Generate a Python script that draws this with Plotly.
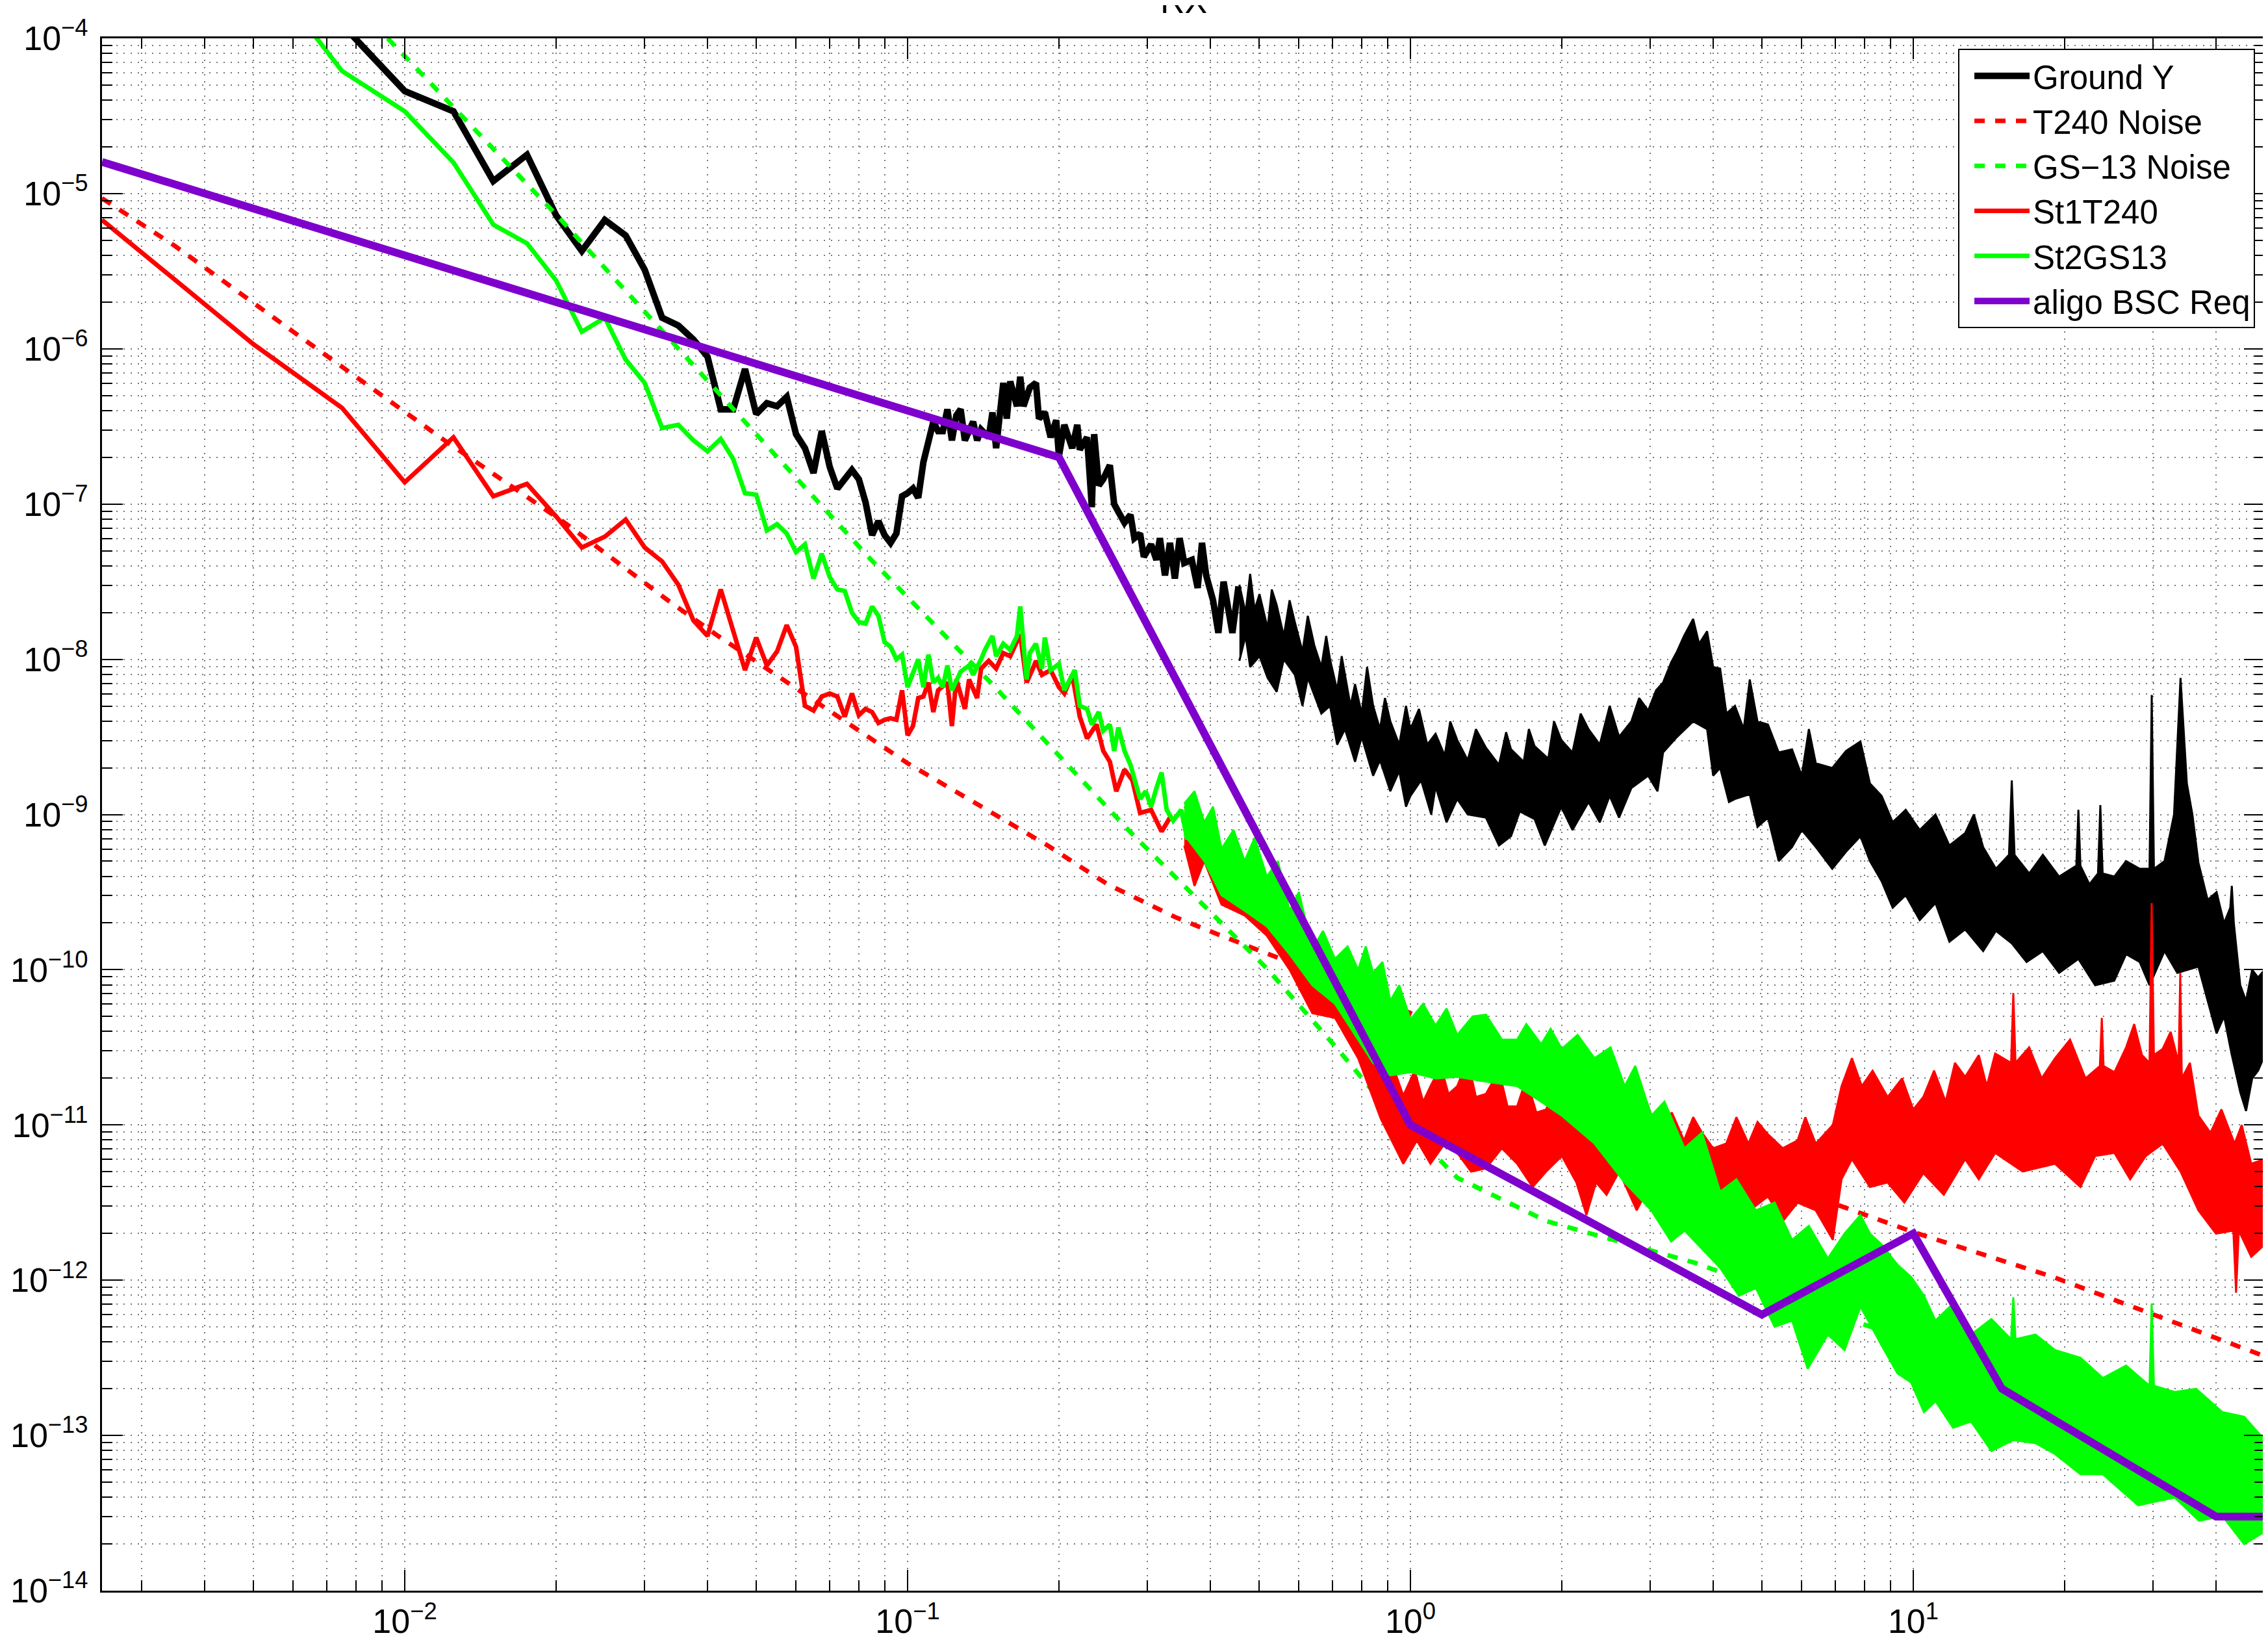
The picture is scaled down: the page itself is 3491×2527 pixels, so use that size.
import numpy as np
import plotly.graph_objects as go

# amplitudes as log10 values (decades)

# Ground Y: resolved low frequency bins (Hz)
ground_f = [0.0075, 0.01, 0.0125, 0.015, 0.0175, 0.02, 0.0225, 0.025, 0.0275, 0.03,
            0.0325, 0.035, 0.0375, 0.04, 0.0425, 0.045, 0.0475, 0.05, 0.0525, 0.055,
            0.0575, 0.06, 0.0625, 0.065, 0.0675, 0.07, 0.0725, 0.075, 0.0775, 0.08,
            0.0825, 0.085, 0.0875, 0.09, 0.0925, 0.095, 0.0975, 0.1, 0.1025, 0.105,
            0.1075, 0.1125, 0.115, 0.1175, 0.12, 0.1225, 0.125, 0.1275, 0.13, 0.135,
            0.1375, 0.14, 0.145, 0.1475, 0.15, 0.155, 0.1575, 0.16, 0.165, 0.1675,
            0.17, 0.175, 0.18, 0.1825, 0.1875, 0.1925, 0.1975, 0.2, 0.205, 0.2125,
            0.2175, 0.22, 0.2275, 0.2325, 0.235, 0.24, 0.245, 0.2525, 0.2575, 0.2625,
            0.27, 0.2775, 0.2825, 0.29, 0.295, 0.305, 0.3125, 0.3175, 0.325, 0.3325,
            0.34, 0.3475, 0.355, 0.3675, 0.3775, 0.385, 0.3925, 0.405, 0.415, 0.425,
            0.4425, 0.455]
ground_exp = [-3.91, -4.34, -4.47, -4.92, -4.75, -5.14, -5.37, -5.17, -5.27, -5.49,
              -5.80, -5.85, -5.94, -6.05, -6.39, -6.39, -6.13, -6.42, -6.35, -6.37,
              -6.31, -6.55, -6.64, -6.80, -6.53, -6.76, -6.90, -6.84, -6.78, -6.84,
              -6.99, -7.20, -7.11, -7.20, -7.25, -7.19, -6.95, -6.93, -6.90, -6.96,
              -6.73, -6.47, -6.53, -6.53, -6.39, -6.59, -6.43, -6.39, -6.59, -6.47,
              -6.59, -6.52, -6.57, -6.41, -6.64, -6.22, -6.45, -6.21, -6.37, -6.18,
              -6.37, -6.25, -6.22, -6.45, -6.41, -6.57, -6.46, -6.69, -6.49, -6.64,
              -6.49, -6.65, -6.57, -7.02, -6.55, -6.88, -6.84, -6.75, -7.00, -7.05,
              -7.12, -7.07, -7.22, -7.19, -7.34, -7.26, -7.36, -7.22, -7.46, -7.25,
              -7.48, -7.22, -7.38, -7.36, -7.54, -7.25, -7.46, -7.62, -7.83, -7.50,
              -7.83, -7.53]

# Ground Y: dense part, upper and lower edge of the noise band
ground_up_f = [0.457, 0.47, 0.48, 0.49, 0.501, 0.52, 0.53, 0.542, 0.56, 0.575,
               0.589, 0.61, 0.625, 0.644, 0.665, 0.68, 0.692, 0.715, 0.73, 0.741,
               0.76, 0.776, 0.80, 0.82, 0.843, 0.87, 0.89, 0.912, 0.95, 0.98,
               1.0, 1.04, 1.08, 1.122, 1.17, 1.2, 1.239, 1.3, 1.35, 1.413,
               1.5, 1.55, 1.585, 1.68, 1.72, 1.766, 1.88, 1.93, 1.995, 2.1,
               2.18, 2.26, 2.38, 2.49, 2.6, 2.75, 2.85, 2.97, 3.08, 3.18,
               3.3, 3.39, 3.5, 3.65, 3.75, 3.89, 4.0, 4.13, 4.25, 4.42,
               4.6, 4.73, 4.9, 5.14, 5.4, 5.74, 6.0, 6.2, 6.4, 6.9,
               7.35, 7.85, 8.2, 8.65, 9.1, 9.66, 10.3, 11.07, 11.8, 12.68,
               13.2, 13.77, 14.6, 15.5, 15.7, 15.9, 17.0, 18.1, 19.5, 21.1,
               21.3, 21.5, 22.4, 23.3, 23.55, 23.8, 25.1, 26.5, 28.2, 29.5,
               29.8, 30.1, 31.6, 33.0, 34.0, 35.0, 35.9, 36.9, 38.5, 40.1,
               41.5, 42.7, 43.0, 43.4, 44.7, 45.9, 47.2, 48.5, 50.0]
ground_up_exp = [-7.52, -7.70, -7.45, -7.68, -7.58, -7.80, -7.55, -7.65, -7.85, -7.62,
                 -7.76, -7.95, -7.72, -7.91, -8.05, -7.85, -8.00, -8.20, -7.98, -8.10,
                 -8.30, -8.16, -8.35, -8.05, -8.30, -8.45, -8.25, -8.40, -8.55, -8.30,
                 -8.45, -8.32, -8.55, -8.48, -8.62, -8.40, -8.52, -8.65, -8.45, -8.57,
                 -8.68, -8.47, -8.58, -8.66, -8.45, -8.56, -8.64, -8.40, -8.52, -8.60,
                 -8.35, -8.45, -8.55, -8.30, -8.50, -8.40, -8.25, -8.33, -8.20, -8.15,
                 -8.02, -7.95, -7.85, -7.74, -7.90, -7.82, -8.05, -8.06, -8.35, -8.30,
                 -8.45, -8.13, -8.40, -8.42, -8.60, -8.58, -8.75, -8.45, -8.67, -8.70,
                 -8.59, -8.53, -8.80, -8.88, -9.05, -8.97, -9.10, -9.00, -9.20, -9.12,
                 -9.00, -9.21, -9.35, -9.26, -8.78, -9.26, -9.38, -9.26, -9.40, -9.33,
                 -8.97, -9.33, -9.45, -9.38, -8.94, -9.38, -9.40, -9.30, -9.35, -9.35,
                 -8.23, -9.35, -9.30, -9.00, -8.12, -8.80, -9.00, -9.31, -9.55, -9.50,
                 -9.70, -9.60, -9.46, -9.70, -10.10, -10.20, -10.00, -10.05, -10.00]
ground_lo_f = [0.457, 0.47, 0.48, 0.501, 0.52, 0.542, 0.56, 0.589, 0.61, 0.625,
               0.644, 0.665, 0.692, 0.715, 0.741, 0.776, 0.80, 0.843, 0.87, 0.912,
               0.95, 0.98, 1.0, 1.05, 1.1, 1.122, 1.18, 1.239, 1.3, 1.413,
               1.5, 1.585, 1.65, 1.766, 1.85, 1.995, 2.1, 2.26, 2.38, 2.49,
               2.6, 2.75, 2.97, 3.1, 3.18, 3.39, 3.65, 3.89, 4.0, 4.13,
               4.3, 4.42, 4.73, 4.9, 5.14, 5.4, 5.74, 6.0, 6.4, 6.9,
               7.35, 7.85, 8.2, 8.65, 9.1, 9.66, 10.3, 11.07, 11.8, 12.68,
               13.77, 14.6, 15.7, 16.8, 18.1, 19.5, 21.3, 23.0, 25.1, 26.5,
               28.2, 29.5, 31.6, 33.5, 36.9, 38.5, 40.1, 41.5, 43.0, 44.7,
               45.9, 47.2, 48.5, 50.0]
ground_lo_exp = [-8.01, -7.85, -8.05, -7.98, -8.12, -8.21, -8.00, -8.10, -8.30, -8.12,
                 -8.23, -8.35, -8.30, -8.55, -8.45, -8.66, -8.50, -8.75, -8.65, -8.85,
                 -8.72, -8.95, -8.88, -8.78, -9.00, -8.82, -9.05, -8.90, -9.00, -9.02,
                 -9.20, -9.14, -8.98, -9.03, -9.20, -8.95, -9.10, -8.92, -9.05, -8.88,
                 -9.02, -8.83, -8.75, -8.85, -8.60, -8.50, -8.40, -8.45, -8.75, -8.70,
                 -8.92, -8.90, -8.87, -9.08, -9.02, -9.30, -9.21, -9.10, -9.21, -9.35,
                 -9.24, -9.14, -9.30, -9.43, -9.60, -9.52, -9.68, -9.57, -9.82, -9.74,
                 -9.88, -9.75, -9.83, -9.95, -9.88, -10.02, -9.93, -10.10, -10.07, -9.90,
                 -9.95, -10.10, -9.88, -10.02, -9.98, -10.20, -10.41, -10.30, -10.55, -10.79,
                 -10.91, -10.70, -10.65, -10.55]

# T240 noise model
t240_f = [0.0025, 0.0035, 0.006, 0.012, 0.021, 0.034, 0.042, 0.1, 0.19, 0.25,
          0.34, 0.42, 0.84, 1.0, 7.0, 10.0, 19.0, 50.0]
t240_exp = [-5.03, -5.34, -5.89, -6.59, -7.13, -7.64, -7.85, -8.67, -9.20, -9.45,
            -9.66, -9.78, -10.16, -10.28, -11.51, -11.69, -11.98, -12.49]

# GS-13 noise model
gs13_f = [0.00925, 0.0202, 0.0484, 0.0841, 0.1483, 0.2767, 0.5176, 0.716, 0.851, 1.239,
          1.866, 3.698, 7.551, 15.85, 50.0]
gs13_exp = [-4.00, -5.15, -6.50, -7.35, -8.17, -9.11, -9.99, -10.51, -10.80, -11.34,
            -11.62, -11.89, -12.26, -12.60, -13.20]

# St1T240
st1_f = [0.0025, 0.005, 0.0075, 0.01, 0.0125, 0.015, 0.0175, 0.02, 0.0225, 0.025,
         0.0275, 0.03, 0.0325, 0.035, 0.0375, 0.04, 0.0425, 0.045, 0.0475, 0.05,
         0.0525, 0.055, 0.0575, 0.06, 0.0625, 0.065, 0.0675, 0.07, 0.0725, 0.075,
         0.0775, 0.08, 0.0825, 0.085, 0.0875, 0.09, 0.0925, 0.095, 0.0975, 0.1,
         0.1025, 0.105, 0.1075, 0.11, 0.1125, 0.115, 0.12, 0.1225, 0.125, 0.13,
         0.1325, 0.1375, 0.14, 0.145, 0.15, 0.155, 0.16, 0.1675, 0.1725, 0.1775,
         0.18, 0.185, 0.1925, 0.2, 0.205, 0.2125, 0.22, 0.2275, 0.2375, 0.245,
         0.2525, 0.26, 0.27, 0.28, 0.29, 0.305, 0.32, 0.3325]
st1_exp = [-5.17, -5.97, -6.38, -6.86, -6.57, -6.95, -6.87, -7.08, -7.28, -7.21,
           -7.10, -7.28, -7.37, -7.52, -7.75, -7.85, -7.55, -7.83, -8.07, -7.86,
           -8.04, -7.95, -7.78, -7.92, -8.30, -8.33, -8.24, -8.22, -8.24, -8.37,
           -8.22, -8.36, -8.32, -8.34, -8.41, -8.39, -8.38, -8.39, -8.20, -8.49,
           -8.43, -8.25, -8.24, -8.15, -8.34, -8.20, -8.15, -8.43, -8.13, -8.32,
           -8.13, -8.25, -8.06, -8.01, -8.06, -7.96, -7.98, -7.84, -8.15, -8.06,
           -8.01, -8.10, -8.07, -8.18, -8.22, -8.10, -8.37, -8.51, -8.42, -8.59,
           -8.66, -8.85, -8.71, -8.78, -8.99, -8.97, -9.11, -9.02]
st1_up_f = [0.355, 0.372, 0.389, 0.421, 0.468, 0.518, 0.575, 0.638, 0.708, 0.787,
            0.873, 0.968, 1.02, 1.06, 1.096, 1.15, 1.19, 1.239, 1.3, 1.35,
            1.413, 1.5, 1.56, 1.63, 1.7, 1.78, 1.862, 1.95, 2.03, 2.138,
            2.25, 2.35, 2.455, 2.6, 2.7, 2.818, 2.95, 3.1, 3.311, 3.5,
            3.65, 3.802, 4.0, 4.246, 4.45, 4.7, 4.9, 5.14, 5.5, 5.888,
            6.1, 6.397, 6.918, 7.2, 7.551, 7.9, 8.3, 8.89, 9.5, 10.0,
            10.47, 11.0, 11.6, 12.1, 12.68, 13.5, 14.0, 14.55, 15.65, 15.81,
            15.97, 17.0, 18.0, 19.14, 20.5, 22.0, 23.5, 23.71, 23.9, 25.12,
            26.5, 27.5, 28.5, 29.5, 29.79, 30.1, 31.33, 32.5, 33.7, 33.96,
            34.2, 35.5, 36.9, 39.0, 41.0, 43.55, 45.0, 47.0, 50.0]
st1_up_exp = [-8.95, -9.00, -9.10, -9.25, -9.35, -9.45, -9.70, -9.90, -10.00, -10.10,
              -10.40, -10.81, -10.65, -10.85, -10.75, -10.62, -10.80, -10.75, -10.58, -10.82,
              -10.80, -10.65, -10.88, -10.88, -10.70, -10.92, -10.90, -10.72, -10.95, -10.94,
              -10.80, -10.98, -10.95, -10.82, -11.05, -11.00, -10.85, -11.05, -10.92, -11.10,
              -10.95, -11.05, -11.15, -11.12, -10.95, -11.12, -10.98, -11.06, -11.15, -11.10,
              -10.95, -11.12, -11.00, -10.75, -10.57, -10.75, -10.65, -10.82, -10.70, -10.90,
              -10.82, -10.65, -10.85, -10.60, -10.69, -10.55, -10.75, -10.54, -10.60, -10.15,
              -10.60, -10.50, -10.70, -10.57, -10.45, -10.70, -10.62, -10.31, -10.62, -10.66,
              -10.50, -10.35, -10.55, -10.60, -9.57, -10.55, -10.51, -10.40, -10.60, -10.02,
              -10.70, -10.60, -10.94, -11.05, -10.90, -11.12, -11.00, -11.25, -11.22]
st1_lo_f = [0.355, 0.372, 0.389, 0.421, 0.468, 0.518, 0.575, 0.638, 0.708, 0.787,
            0.873, 0.968, 1.03, 1.096, 1.17, 1.239, 1.32, 1.413, 1.52, 1.63,
            1.75, 1.862, 2.0, 2.138, 2.239, 2.34, 2.455, 2.6, 2.818, 3.0,
            3.311, 3.55, 3.802, 4.0, 4.246, 4.6, 5.14, 5.5, 5.888, 6.397,
            6.918, 7.2, 7.551, 8.2, 8.89, 9.6, 10.47, 11.5, 12.68, 13.5,
            14.55, 16.5, 19.14, 21.5, 23.0, 25.12, 27.0, 29.0, 31.33, 34.0,
            36.9, 40.0, 43.3, 43.85, 44.4, 47.0, 50.0]
st1_lo_exp = [-9.20, -9.46, -9.30, -9.58, -9.65, -9.78, -10.00, -10.28, -10.31, -10.57,
              -10.96, -11.25, -11.10, -11.25, -11.12, -11.18, -11.30, -11.28, -11.15, -11.25,
              -11.40, -11.30, -11.20, -11.37, -11.58, -11.37, -11.45, -11.30, -11.55, -11.38,
              -11.43, -11.30, -11.40, -11.55, -11.43, -11.58, -11.46, -11.62, -11.50, -11.55,
              -11.74, -11.35, -11.22, -11.40, -11.37, -11.50, -11.31, -11.45, -11.22, -11.35,
              -11.18, -11.30, -11.25, -11.40, -11.20, -11.18, -11.35, -11.20, -11.12, -11.30,
              -11.55, -11.70, -11.68, -12.08, -11.68, -11.85, -11.77]

# St2GS13
st2_f = [0.005, 0.0075, 0.01, 0.0125, 0.015, 0.0175, 0.02, 0.0225, 0.025, 0.0275,
         0.03, 0.0325, 0.035, 0.0375, 0.04, 0.0425, 0.045, 0.0475, 0.05, 0.0525,
         0.055, 0.0575, 0.06, 0.0625, 0.065, 0.0675, 0.07, 0.0725, 0.075, 0.0775,
         0.08, 0.0825, 0.085, 0.0875, 0.09, 0.0925, 0.095, 0.0975, 0.1, 0.1025,
         0.105, 0.1075, 0.11, 0.1125, 0.115, 0.1175, 0.12, 0.1225, 0.1275, 0.1325,
         0.135, 0.14, 0.1425, 0.1475, 0.15, 0.155, 0.16, 0.165, 0.1675, 0.1725,
         0.175, 0.18, 0.185, 0.1875, 0.1925, 0.2, 0.205, 0.215, 0.22, 0.2275,
         0.2325, 0.24, 0.245, 0.2525, 0.2575, 0.2625, 0.27, 0.2775, 0.285, 0.29,
         0.2975, 0.305, 0.3125, 0.32, 0.3275, 0.3375, 0.35, 0.36, 0.375, 0.3875,
         0.4075]
st2_exp = [-3.47, -4.21, -4.47, -4.80, -5.20, -5.32, -5.56, -5.89, -5.80, -6.07,
           -6.22, -6.51, -6.49, -6.59, -6.66, -6.58, -6.71, -6.93, -6.94, -7.17,
           -7.13, -7.19, -7.31, -7.26, -7.48, -7.32, -7.47, -7.55, -7.56, -7.70,
           -7.76, -7.77, -7.66, -7.72, -7.89, -7.92, -8.00, -7.97, -8.18, -8.08,
           -8.00, -8.18, -7.97, -8.15, -8.12, -8.18, -8.04, -8.20, -8.08, -8.04,
           -8.10, -8.00, -7.94, -7.85, -7.98, -7.90, -7.94, -7.85, -7.66, -8.13,
           -7.96, -7.90, -8.06, -7.86, -8.07, -8.03, -8.20, -8.07, -8.30, -8.32,
           -8.42, -8.34, -8.46, -8.42, -8.59, -8.44, -8.59, -8.68, -8.80, -8.90,
           -8.85, -8.95, -8.83, -8.73, -8.97, -9.04, -8.97, -9.16, -9.07, -9.14,
           -9.21]
st2_up_f = [0.355, 0.372, 0.389, 0.405, 0.421, 0.445, 0.468, 0.49, 0.518, 0.545,
            0.575, 0.6, 0.638, 0.67, 0.708, 0.75, 0.787, 0.815, 0.843, 0.88,
            0.912, 0.95, 1.0, 1.06, 1.122, 1.18, 1.239, 1.33, 1.413, 1.52,
            1.63, 1.7, 1.82, 1.9, 2.0, 2.15, 2.323, 2.5, 2.667, 2.8,
            3.013, 3.2, 3.508, 3.8, 4.13, 4.45, 4.864, 5.3, 5.741, 6.2,
            6.761, 7.3, 7.852, 8.2, 8.65, 9.3, 9.908, 10.5, 11.07, 12.0,
            13.03, 14.3, 15.65, 15.81, 15.97, 17.5, 19.14, 21.5, 23.82, 26.5,
            29.5, 29.79, 30.1, 33.11, 36.5, 41.21, 45.5, 50.0]
st2_up_exp = [-8.93, -8.85, -9.05, -8.95, -9.22, -9.10, -9.30, -9.15, -9.40, -9.30,
              -9.62, -9.50, -9.87, -9.75, -9.93, -9.85, -10.00, -9.85, -10.02, -9.95,
              -10.20, -10.10, -10.32, -10.22, -10.36, -10.25, -10.42, -10.30, -10.29, -10.45,
              -10.45, -10.35, -10.48, -10.38, -10.51, -10.42, -10.57, -10.50, -10.75, -10.62,
              -10.94, -10.85, -11.15, -11.05, -11.43, -11.35, -11.55, -11.50, -11.74, -11.65,
              -11.86, -11.70, -11.58, -11.70, -11.77, -11.90, -11.98, -12.10, -12.26, -12.15,
              -12.35, -12.25, -12.38, -12.11, -12.38, -12.35, -12.45, -12.50, -12.63, -12.55,
              -12.68, -12.15, -12.68, -12.72, -12.70, -12.85, -12.88, -13.03]
st2_lo_f = [0.355, 0.389, 0.421, 0.468, 0.518, 0.575, 0.638, 0.708, 0.787, 0.843,
            0.912, 1.0, 1.122, 1.239, 1.413, 1.63, 1.82, 2.0, 2.323, 2.667,
            3.013, 3.3, 3.508, 4.13, 4.5, 4.864, 5.3, 5.741, 6.166, 6.761,
            7.3, 7.852, 8.65, 9.3, 9.908, 10.5, 11.07, 12.0, 13.03, 14.3,
            15.81, 17.5, 19.14, 21.5, 23.82, 28.0, 33.11, 37.0, 41.21, 45.5,
            50.0]
st2_lo_exp = [-9.13, -9.30, -9.52, -9.62, -9.72, -9.90, -10.10, -10.22, -10.45, -10.60,
              -10.68, -10.66, -10.70, -10.69, -10.72, -10.75, -10.85, -10.94, -11.12, -11.37,
              -11.55, -11.75, -11.68, -11.92, -12.10, -12.05, -12.30, -12.26, -12.57, -12.35,
              -12.45, -12.17, -12.42, -12.60, -12.66, -12.85, -12.78, -12.95, -12.91, -13.10,
              -13.03, -13.05, -13.12, -13.25, -13.25, -13.45, -13.40, -13.55, -13.52, -13.70,
              -13.62]

# aLIGO BSC requirement
req_f = [0.0025, 0.2, 1.0, 5.0, 10.0, 15.0, 40.0, 50.0]
req_y = [1.6e-5, 2e-7, 1e-11, 6e-13, 2e-12, 2e-13, 3e-14, 3e-14]

x_tickvals = [0.01, 0.1, 1, 10]
x_ticktext = ['10<sup>\u22122</sup>', '10<sup>\u22121</sup>', '10<sup>0</sup>', '10<sup>1</sup>']
y_tickvals = [10.0 ** p for p in range(-14, -3)]
y_ticktext = ['10<sup>\u2212%d</sup>' % -p for p in range(-14, -3)]

BLACK = '#000000'
RED = '#ff0000'
GREEN = '#00ff00'
PURPLE = '#7f00cc'
FONT = 'Liberation Sans, Arial, Helvetica, sans-serif'


def amp(e):
    return list(10.0 ** np.array(e))


def band(up_f, up_e, lo_f, lo_e, color):
    # closed outline: upper edge left->right, lower edge back right->left
    x = list(up_f) + list(lo_f)[::-1]
    y = amp(up_e) + amp(lo_e)[::-1]
    return go.Scatter(x=x, y=y, mode='lines', fill='toself', fillcolor=color,
                      line=dict(color=color, width=3), showlegend=False,
                      hoverinfo='skip')


fig = go.Figure()

fig.add_trace(go.Scatter(x=ground_f, y=amp(ground_exp), name='Ground Y', mode='lines',
                         line=dict(color=BLACK, width=10)))
fig.add_trace(band(ground_up_f, ground_up_exp, ground_lo_f, ground_lo_exp, BLACK))

fig.add_trace(go.Scatter(x=t240_f, y=amp(t240_exp), name='T240 Noise', mode='lines',
                         line=dict(color=RED, width=7, dash='16px,16px')))
fig.add_trace(go.Scatter(x=gs13_f, y=amp(gs13_exp), name='GS\u221213 Noise', mode='lines',
                         line=dict(color=GREEN, width=7, dash='16px,16px')))

fig.add_trace(go.Scatter(x=st1_f, y=amp(st1_exp), name='St1T240', mode='lines',
                         line=dict(color=RED, width=7)))
fig.add_trace(band(st1_up_f, st1_up_exp, st1_lo_f, st1_lo_exp, RED))

fig.add_trace(go.Scatter(x=st2_f, y=amp(st2_exp), name='St2GS13', mode='lines',
                         line=dict(color=GREEN, width=7)))
fig.add_trace(band(st2_up_f, st2_up_exp, st2_lo_f, st2_lo_exp, GREEN))

fig.add_trace(go.Scatter(x=req_f, y=req_y, name='aligo BSC Req', mode='lines',
                         line=dict(color=PURPLE, width=12)))

grid = dict(showgrid=True, gridcolor='#777777', gridwidth=2, griddash='2px,9px')
minor_x = [m * 10.0 ** p for p in range(-3, 2) for m in range(2, 10)]
minor_y = [m * 10.0 ** p for p in range(-14, -4) for m in range(2, 10)]

common = dict(type='log', ticks='inside', ticklen=32, tickwidth=2, tickcolor='black',
              showline=True, linecolor='black', linewidth=3, mirror='allticks',
              zeroline=False, tickmode='array', automargin=False,
              tickfont=dict(size=52, family=FONT, color='black'), **grid)

fig.update_layout(
    width=3491, height=2527,
    margin=dict(l=149, r=13, t=51, b=87),
    paper_bgcolor='white', plot_bgcolor='white',
    font=dict(family=FONT, size=52, color='black'),
    xaxis=dict(range=[np.log10(0.0025), np.log10(50)], tickvals=x_tickvals,
               ticktext=x_ticktext, ticklabelstandoff=0,
               minor=dict(tickmode='array', tickvals=minor_x, ticks='inside', ticklen=16,
                          tickwidth=2, tickcolor='black', **grid),
               **common),
    yaxis=dict(range=[-14, -4], tickvals=y_tickvals, ticktext=y_ticktext,
               ticklabelstandoff=8,
               minor=dict(tickmode='array', tickvals=minor_y, ticks='inside', ticklen=16,
                          tickwidth=2, tickcolor='black', **grid),
               **common),
    legend=dict(x=0.9955, y=0.9933, xanchor='right', yanchor='top', bgcolor='white',
                bordercolor='black', borderwidth=2, itemwidth=85, indentation=18,
                font=dict(size=51, family=FONT, color='black')),
    annotations=[dict(text='RX', x=0.5, y=1, xref='paper', yref='paper',
                      xanchor='center', yanchor='bottom', yshift=26, showarrow=False,
                      font=dict(size=52, family=FONT, color='black'))],
)

fig.write_html('out.html')
